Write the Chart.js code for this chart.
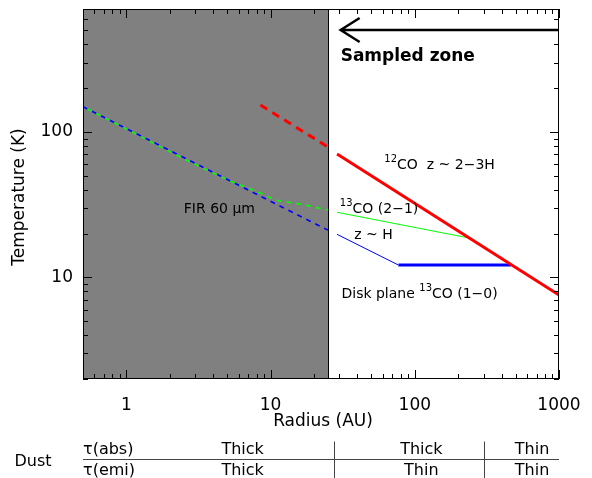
<!DOCTYPE html>
<html>
<head>
<meta charset="utf-8">
<script src="https://cdn.jsdelivr.net/npm/chart.js"></script>
<style>
  body { margin: 0; background: #fff; }
  #wrap { width: 592px; height: 478px; }
</style>
</head>
<body>
<div id="wrap"><canvas id="tempChart" width="592" height="478"></canvas></div>
<script>
// tick values (radius in AU, temperature in K)
const radiusTicks = [0.5, 0.6, 0.7, 0.8, 0.9, 1, 2, 3, 4, 5, 6, 7, 8, 9, 10, 20, 30, 40, 50, 60, 70, 80, 90, 100, 200, 300, 400, 500, 600, 700, 800, 900, 1000];
const radiusLabels = [1, 10, 100, 1000];
const tempTicks = [2, 3, 4, 5, 6, 7, 8, 9, 10, 20, 30, 40, 50, 60, 70, 80, 90, 100, 200, 300, 400, 500, 600, 700];
const tempLabels = [10, 100];

// FIR 60 um (dashed, inside the dusty zone)
const firBlueR = [0.5, 25];
const firBlueT = [149, 21.1];
const firGreenR = [0.5, 5, 8, 11, 16, 25];
const firGreenT = [149, 47, 39, 34, 31.9, 29];
// 12CO
const co12DashR = [8.5, 25];
const co12DashT = [153, 78.7];
const co12R = [28.9, 1000];
const co12T = [70.4, 7.55];
// 13CO (2-1)
const co13aR = [28.9, 234];
const co13aT = [28.0, 18.7];
// 13CO (1-0), z ~ H then disk plane
const co13bR = [28.9, 77];
const co13bT = [19.75, 12.15];
const planeR = [77, 465];
const planeT = [12.15, 12.15];

const sampledEdge = 25;
const dustSplits = [27.5, 300];

const FONT = '"DejaVu Sans", sans-serif';

function pts(xs, ys) {
  return xs.map((x, i) => ({ x: x, y: ys[i] }));
}

function isDecade(v) {
  return Math.abs(Math.log10(v) - Math.round(Math.log10(v))) < 1e-9;
}

// text with superscript pieces: [[text, sup], ...]
function richText(ctx, parts, x, y, size) {
  ctx.textBaseline = 'middle';
  ctx.textAlign = 'left';
  parts.forEach(p => {
    const sup = p[1];
    ctx.font = (sup ? Math.round(size * 0.72) : size) + 'px ' + FONT;
    ctx.fillText(p[0], x, sup ? y - size * 0.42 : y);
    x += ctx.measureText(p[0]).width;
  });
}

const decorPlugin = {
  id: 'decor',
  beforeDatasetsDraw(chart) {
    const { ctx, chartArea: a, scales: { x } } = chart;
    const edge = x.getPixelForValue(sampledEdge);
    ctx.save();
    ctx.fillStyle = '#808080';
    ctx.fillRect(a.left, a.top, edge - a.left, a.bottom - a.top);
    ctx.strokeStyle = '#000';
    ctx.lineWidth = 1;
    ctx.beginPath();
    ctx.moveTo(edge + 0.5, a.top);
    ctx.lineTo(edge + 0.5, a.bottom);
    ctx.stroke();
    ctx.restore();
  },
  afterDatasetsDraw(chart) {
    const { ctx, chartArea: a, scales: { x, y } } = chart;
    ctx.save();

    // frame
    ctx.strokeStyle = '#000';
    ctx.lineWidth = 1;
    ctx.strokeRect(a.left + 0.5, a.top + 0.5, a.right - a.left - 1, a.bottom - a.top - 1);

    // inward ticks on all sides
    ctx.beginPath();
    radiusTicks.forEach(v => {
      const px = Math.round(x.getPixelForValue(v)) + 0.5;
      const len = isDecade(v) ? 9 : 5;
      ctx.moveTo(px, a.bottom); ctx.lineTo(px, a.bottom - len);
      ctx.moveTo(px, a.top); ctx.lineTo(px, a.top + len);
    });
    tempTicks.forEach(v => {
      const py = Math.round(y.getPixelForValue(v)) + 0.5;
      const len = isDecade(v) ? 9 : 5;
      ctx.moveTo(a.left, py); ctx.lineTo(a.left + len, py);
      ctx.moveTo(a.right, py); ctx.lineTo(a.right - len, py);
    });
    ctx.stroke();

    ctx.fillStyle = '#000';

    // sampled zone arrow
    const ay = y.getPixelForValue(502);
    const ax = x.getPixelForValue(30.6);
    ctx.lineWidth = 2.5;
    ctx.beginPath();
    ctx.moveTo(a.right, ay);
    ctx.lineTo(ax + 2, ay);
    ctx.moveTo(ax + 19, ay - 12);
    ctx.lineTo(ax, ay);
    ctx.lineTo(ax + 19, ay + 12);
    ctx.stroke();
    ctx.font = 'bold 17px ' + FONT;
    ctx.textAlign = 'left';
    ctx.textBaseline = 'middle';
    ctx.fillText('Sampled zone', ax, y.getPixelForValue(330));

    // curve labels
    richText(ctx, [['12', true], ['CO  z ~ 2\u22123H', false]], x.getPixelForValue(61.5), y.getPixelForValue(59), 14);
    richText(ctx, [['13', true], ['CO (2\u22121)', false]], x.getPixelForValue(30.2), y.getPixelForValue(29.2), 14);
    richText(ctx, [['z ~ H', false]], x.getPixelForValue(38), y.getPixelForValue(19.3), 14);
    richText(ctx, [['Disk plane ', false], ['13', true], ['CO (1\u22120)', false]], x.getPixelForValue(31), y.getPixelForValue(7.6), 14);
    ctx.font = '14px ' + FONT;
    ctx.textAlign = 'left';
    ctx.fillText('FIR 60 \u03bcm', x.getPixelForValue(2.5), y.getPixelForValue(29.2));

    // axis titles
    ctx.font = '17px ' + FONT;
    ctx.textAlign = 'center';
    ctx.fillText('Radius (AU)', (a.left + a.right) / 2 + 2, a.bottom + 43);
    ctx.save();
    ctx.translate(20, (a.top + a.bottom) / 2 + 3);
    ctx.rotate(-Math.PI / 2);
    ctx.fillText('Temperature (K)', 0, 0);
    ctx.restore();

    // dust optical depth table
    const lineY = a.bottom + 80.5;
    ctx.lineWidth = 1;
    ctx.strokeStyle = '#444';
    ctx.beginPath();
    ctx.moveTo(a.left, lineY);
    ctx.lineTo(a.right, lineY);
    dustSplits.forEach(v => {
      const px = Math.round(x.getPixelForValue(v)) + 0.5;
      ctx.moveTo(px, lineY - 18);
      ctx.lineTo(px, lineY + 20);
    });
    ctx.stroke();
    ctx.font = '16px ' + FONT;
    ctx.textAlign = 'center';
    ctx.fillText('Dust', 33, lineY + 2);
    ctx.textAlign = 'left';
    ctx.fillText('\u03c4(abs)', a.left, lineY - 10);
    ctx.fillText('\u03c4(emi)', a.left, lineY + 11);
    ctx.textAlign = 'center';
    const cells = [[6.4, 'Thick', 'Thick'], [111, 'Thick', 'Thin'], [650, 'Thin', 'Thin']];
    cells.forEach(c => {
      const px = x.getPixelForValue(c[0]);
      ctx.fillText(c[1], px, lineY - 10);
      ctx.fillText(c[2], px, lineY + 11);
    });

    ctx.restore();
  }
};

const lineDefaults = { pointRadius: 0, fill: false, tension: 0 };

new Chart(document.getElementById('tempChart'), {
  type: 'line',
  data: {
    datasets: [
      Object.assign({ data: pts(firGreenR, firGreenT), borderColor: '#00ff00', borderWidth: 1.5, borderDash: [5, 5], borderDashOffset: 5, cubicInterpolationMode: 'monotone' }, lineDefaults, { tension: 0.4 }),
      Object.assign({ data: pts(firBlueR, firBlueT), borderColor: '#0000ff', borderWidth: 1.5, borderDash: [5, 5] }, lineDefaults),
      Object.assign({ data: pts(co12DashR, co12DashT), borderColor: '#ff0000', borderWidth: 3, borderDash: [8, 6] }, lineDefaults),
      Object.assign({ data: pts(co12R, co12T), borderColor: '#ff0000', borderWidth: 3 }, lineDefaults),
      Object.assign({ data: pts(co13aR, co13aT), borderColor: '#00ff00', borderWidth: 1 }, lineDefaults),
      Object.assign({ data: pts(co13bR, co13bT), borderColor: '#0000ff', borderWidth: 1 }, lineDefaults),
      Object.assign({ data: pts(planeR, planeT), borderColor: '#0000ff', borderWidth: 3 }, lineDefaults)
    ]
  },
  options: {
    responsive: false,
    animation: false,
    events: [],
    layout: { padding: { top: 9, right: 33, left: 0, bottom: 0 } },
    plugins: { legend: { display: false }, tooltip: { enabled: false } },
    scales: {
      x: {
        type: 'logarithmic',
        min: 0.5,
        max: 1000,
        grid: { display: false },
        border: { display: false },
        afterBuildTicks: s => { s.ticks = radiusTicks.map(v => ({ value: v })); },
        afterFit: s => { s.height = 99; s.paddingLeft = 0; s.paddingRight = 0; },
        ticks: {
          autoSkip: false,
          maxRotation: 0,
          padding: 8,
          color: '#000',
          font: { family: FONT, size: 17 },
          callback: v => radiusLabels.includes(v) ? String(v) : ''
        }
      },
      y: {
        type: 'logarithmic',
        min: 2,
        max: 700,
        grid: { display: false },
        border: { display: false },
        afterBuildTicks: s => { s.ticks = tempTicks.map(v => ({ value: v })); },
        afterFit: s => { s.width = 83; s.paddingTop = 0; s.paddingBottom = 0; },
        ticks: {
          autoSkip: false,
          padding: 2,
          color: '#000',
          font: { family: FONT, size: 17 },
          callback: v => tempLabels.includes(v) ? String(v) : ''
        }
      }
    }
  },
  plugins: [decorPlugin]
});
</script>
</body>
</html>
